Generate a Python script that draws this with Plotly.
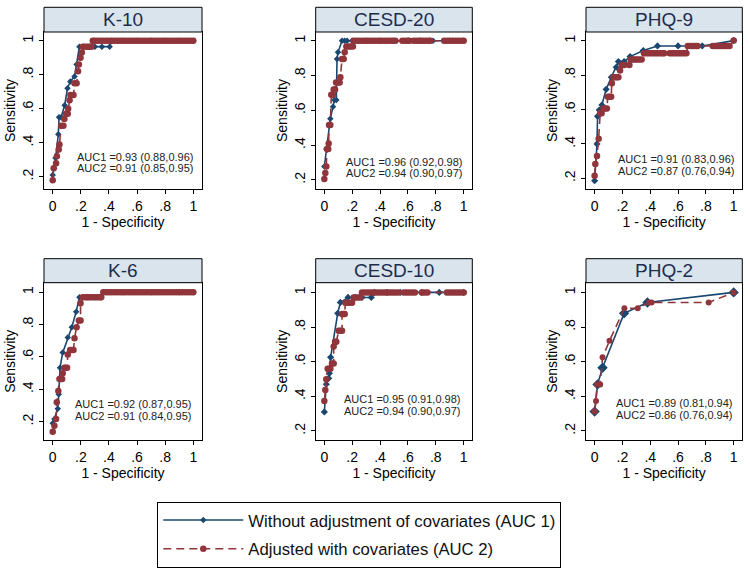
import plotly.graph_objects as go

# ---------------- data ----------------
panel_titles = ["K-10", "CESD-20", "PHQ-9", "K-6", "CESD-10", "PHQ-2"]
auc1_text = ["AUC1 =0.93 (0.88,0.96)", "AUC1 =0.96 (0.92,0.98)", "AUC1 =0.91 (0.83,0.96)",
             "AUC1 =0.92 (0.87,0.95)", "AUC1 =0.95 (0.91,0.98)", "AUC1 =0.89 (0.81,0.94)"]
auc2_text = ["AUC2 =0.91 (0.85,0.95)", "AUC2 =0.94 (0.90,0.97)", "AUC2 =0.87 (0.76,0.94)",
             "AUC2 =0.91 (0.84,0.95)", "AUC2 =0.94 (0.90,0.97)", "AUC2 =0.86 (0.76,0.94)"]
series_names = ["Without adjustment of covariates (AUC 1)", "Adjusted with covariates (AUC 2)"]

# K-10
k10_x1 = [0, 0.01, 0.02, 0.04, 0.045, 0.06, 0.085, 0.105, 0.125, 0.155, 0.17, 0.19, 0.22, 0.26,
          0.30, 0.35, 0.405, 0.42, 0.5, 0.6, 0.7, 0.8, 0.9, 1.0]
k10_y1 = [0.21, 0.25, 0.31, 0.45, 0.55, 0.55, 0.62, 0.72, 0.76, 0.79, 0.86, 0.965, 0.965, 0.965,
          0.965, 0.965, 0.965, 1, 1, 1, 1, 1, 1, 1]
k10_x2 = [0, 0.007, 0.024, 0.03, 0.043, 0.048, 0.06, 0.076, 0.083, 0.095,
          0.107, 0.11, 0.12, 0.126, 0.148, 0.155, 0.17, 0.18, 0.186, 0.198,
          0.207, 0.214, 0.23, 0.245, 0.26, 0.275,
          0.285, 0.30, 0.32, 0.34, 0.36, 0.38, 0.40, 0.42, 0.44, 0.46, 0.48, 0.50, 0.52,
          0.54, 0.56, 0.58, 0.60, 0.62, 0.64, 0.66, 0.68, 0.70, 0.72, 0.74, 0.76, 0.78,
          0.80, 0.82, 0.84, 0.86, 0.88, 0.90, 0.92, 0.94, 0.96, 0.98, 1.0]
k10_y2 = [0.18, 0.25, 0.28, 0.32, 0.36, 0.39, 0.50, 0.50, 0.54, 0.57,
          0.57, 0.60, 0.65, 0.68, 0.68, 0.75, 0.75, 0.82, 0.86, 0.90,
          0.93, 0.965, 0.965, 0.965, 0.965, 0.965,
          1, 1, 1, 1, 1, 1, 1, 1, 1, 1, 1, 1, 1,
          1, 1, 1, 1, 1, 1, 1, 1, 1, 1, 1, 1, 1,
          1, 1, 1, 1, 1, 1, 1, 1, 1, 1, 1]

# CESD-20
c20_x1 = [0, 0.014, 0.043, 0.062, 0.072, 0.086, 0.091, 0.098, 0.127, 0.145, 0.163, 0.2, 0.3,
          0.4, 0.5, 0.6, 0.7, 0.78, 0.9, 1.0]
c20_y1 = [0.277, 0.378, 0.552, 0.62, 0.66, 0.66, 0.895, 0.933, 1, 1, 1, 1, 1,
          1, 1, 1, 1, 1, 1, 1]
c20_x2 = [0, 0.007, 0.014, 0.019, 0.028, 0.031, 0.034, 0.043, 0.05, 0.062,
          0.067, 0.077, 0.084, 0.1, 0.11, 0.115, 0.127, 0.139, 0.146, 0.158,
          0.175, 0.19, 0.205,
          0.21, 0.23, 0.25, 0.27, 0.29, 0.31, 0.33, 0.35, 0.37, 0.39, 0.41, 0.43, 0.45, 0.47,
          0.49, 0.51, 0.56, 0.58, 0.60, 0.61, 0.64, 0.66, 0.68, 0.69, 0.71, 0.73, 0.75, 0.76,
          0.86, 0.88, 0.90, 0.92, 0.94, 0.96, 0.98, 1.0]
c20_y2 = [0.206, 0.24, 0.277, 0.378, 0.378, 0.41, 0.516, 0.516, 0.69, 0.69,
          0.72, 0.72, 0.76, 0.76, 0.76, 0.79, 0.895, 0.895, 0.933, 0.966,
          0.966, 0.966, 0.966,
          1, 1, 1, 1, 1, 1, 1, 1, 1, 1, 1, 1, 1, 1,
          1, 1, 1, 1, 1, 1, 1, 1, 1, 1, 1, 1, 1, 1,
          1, 1, 1, 1, 1, 1, 1, 1]

# PHQ-9
p9_x1 = [0, 0.017, 0.021, 0.033, 0.052, 0.083, 0.12, 0.155, 0.171, 0.212, 0.255, 0.35, 0.452,
         0.6, 0.774, 1.0]
p9_y1 = [0.186, 0.40, 0.56, 0.597, 0.626, 0.717, 0.787, 0.845, 0.878, 0.878, 0.907, 0.942, 0.969,
         0.969, 0.969, 1.0]
p9_x2 = [0, 0.005, 0.017, 0.029, 0.04, 0.05, 0.064, 0.076, 0.088, 0.095,
         0.107, 0.119, 0.124, 0.136, 0.148, 0.16, 0.171, 0.183, 0.195, 0.205,
         0.214, 0.25, 0.26, 0.275, 0.29, 0.305, 0.32, 0.338, 0.355, 0.37,
         0.385, 0.40, 0.415, 0.43, 0.445, 0.46, 0.475, 0.49, 0.50, 0.54,
         0.555, 0.57, 0.585, 0.60, 0.615, 0.63, 0.645, 0.66, 0.67, 0.685,
         0.70, 0.715, 0.73, 0.74, 0.85, 0.865, 0.88, 0.895, 0.91, 0.925,
         0.94, 0.955, 0.97, 1.0]
p9_y2 = [0.215, 0.283, 0.33, 0.43, 0.578, 0.578, 0.606, 0.606, 0.606, 0.674,
         0.674, 0.674, 0.752, 0.787, 0.787, 0.787, 0.787, 0.826, 0.859, 0.859,
         0.859, 0.859, 0.89, 0.89, 0.89, 0.89, 0.89, 0.89, 0.926, 0.926,
         0.926, 0.926, 0.926, 0.926, 0.926, 0.926, 0.926, 0.926, 0.926, 0.926,
         0.926, 0.926, 0.926, 0.926, 0.926, 0.926, 0.926, 0.926, 0.969, 0.969,
         0.969, 0.969, 0.969, 0.969, 0.969, 0.969, 0.969, 0.969, 0.969, 0.969,
         0.969, 0.969, 0.969, 1.0]

# K-6
k6_x1 = [0, 0.012, 0.036, 0.043, 0.052, 0.071, 0.107, 0.136, 0.167, 0.19, 0.25, 0.3, 0.345,
         0.36, 0.5, 0.7, 0.9, 1.0]
k6_y1 = [0.19, 0.216, 0.28, 0.37, 0.534, 0.627, 0.72, 0.784, 0.88, 0.969, 0.969, 0.969, 0.969,
         1, 1, 1, 1, 1]
k6_x2 = [0, 0.012, 0.024, 0.029, 0.04, 0.048, 0.057, 0.067, 0.071, 0.083,
         0.093, 0.102, 0.107, 0.124, 0.136, 0.148, 0.155, 0.17, 0.186, 0.198,
         0.198, 0.214, 0.23, 0.245, 0.26, 0.275, 0.29, 0.305, 0.32, 0.335,
         0.345, 0.36, 0.38, 0.40, 0.42, 0.44, 0.46, 0.48, 0.50, 0.52,
         0.54, 0.56, 0.58, 0.60, 0.62, 0.64, 0.66, 0.68, 0.70, 0.72,
         0.74, 0.76, 0.78, 0.80, 0.82, 0.84, 0.86, 0.88, 0.90, 0.92,
         0.94, 0.96, 0.98, 1.0]
k6_y2 = [0.138, 0.175, 0.216, 0.32, 0.39, 0.464, 0.464, 0.464, 0.5, 0.534,
         0.534, 0.534, 0.616, 0.643, 0.643, 0.643, 0.715, 0.784, 0.825, 0.825,
         0.932, 0.969, 0.969, 0.969, 0.969, 0.969, 0.969, 0.969, 0.969, 0.969,
         0.969, 1, 1, 1, 1, 1, 1, 1, 1, 1,
         1, 1, 1, 1, 1, 1, 1, 1, 1, 1,
         1, 1, 1, 1, 1, 1, 1, 1, 1, 1,
         1, 1, 1, 1]

# CESD-10
c10_x1 = [0, 0.014, 0.031, 0.036, 0.045, 0.096, 0.115, 0.17, 0.22, 0.27, 0.337, 0.36, 0.45,
          0.545, 0.7, 0.825, 1.0]
c10_y1 = [0.31, 0.47, 0.504, 0.533, 0.625, 0.879, 0.942, 0.971, 0.971, 0.971, 0.971, 1, 1,
          1, 1, 1, 1]
c10_x2 = [0, 0.007, 0.014, 0.024, 0.034, 0.043, 0.055, 0.067, 0.067, 0.077,
          0.086, 0.103, 0.115, 0.127, 0.127, 0.139, 0.146, 0.151, 0.165, 0.18,
          0.199, 0.21, 0.225, 0.24, 0.258, 0.27, 0.29, 0.31, 0.33, 0.35,
          0.37, 0.39, 0.41, 0.43, 0.45, 0.47, 0.49, 0.51, 0.53, 0.57,
          0.59, 0.61, 0.63, 0.65, 0.70, 0.72, 0.74, 0.88, 0.90, 0.92,
          0.94, 0.96, 0.98, 1.0]
c10_y2 = [0.373, 0.436, 0.498, 0.56, 0.56, 0.56, 0.59, 0.59, 0.687, 0.715,
          0.715, 0.779, 0.779, 0.779, 0.875, 0.875, 0.875, 0.94, 0.94, 0.94,
          0.94, 0.971, 0.971, 0.971, 0.971, 1, 1, 1, 1, 1,
          1, 1, 1, 1, 1, 1, 1, 1, 1, 1,
          1, 1, 1, 1, 1, 1, 1, 1, 1, 1,
          1, 1, 1, 1]

# PHQ-2
p2_x1 = [0, 0.021, 0.057, 0.212, 0.38, 1.0]
p2_y1 = [0.312, 0.469, 0.565, 0.879, 0.942, 1.0]
p2_x2 = [0, 0.01, 0.017, 0.04, 0.057, 0.107, 0.214, 0.31, 0.39, 0.41, 0.82, 1.0]
p2_y2 = [0.312, 0.373, 0.469, 0.469, 0.625, 0.721, 0.908, 0.908, 0.942, 0.942, 0.942, 1.0]

x_tick_vals = [0, 0.2, 0.4, 0.6, 0.8, 1]
x_tick_text = ["0", ".2", ".4", ".6", ".8", "1"]
y_tick_vals = [0.2, 0.4, 0.6, 0.8, 1]
y_tick_text = [".2", ".4", ".6", ".8", "1"]

panels = [
    (k10_x1, k10_y1, k10_x2, k10_y2),
    (c20_x1, c20_y1, c20_x2, c20_y2),
    (p9_x1, p9_y1, p9_x2, p9_y2),
    (k6_x1, k6_y1, k6_x2, k6_y2),
    (c10_x1, c10_y1, c10_x2, c10_y2),
    (p2_x1, p2_y1, p2_x2, p2_y2),
]

# ---------------- layout / style ----------------
W, H = 750, 574
FONT = "Liberation Sans, Arial, sans-serif"
BLUE = "#1a476f"
RED = "#90353b"
STRIP = "#d9e4ec"
col_px = [(44, 202), (315.7, 472.3), (586, 742.3)]
row_px = [(32, 189), (282.7, 440)]
strip_px = [(7.3, 32), (258.7, 282.7)]
y_ranges = [[0.128, 1.051], [0.148, 1.05], [0.138, 1.05],
            [0.087, 1.059], [0.148, 1.056], [0.148, 1.056]]
x_range = [-0.062, 1.062]
auc_px = [(75, 156.7, 167.7), (344, 162.3, 173.3), (616, 159, 170.7),
          (73.3, 404, 415.7), (342.3, 399, 410.7), (614, 403.3, 415)]
blue_size = [5, 5, 5.5, 5, 5.5, 8]
red_size = [6.5, 6.5, 6.5, 6.5, 6.5, 6]


def px_x(v):
    return v / W


def px_y(v):
    return 1 - v / H


fig = go.Figure()
shapes = []
annotations = []

for i, (x1, y1, x2, y2) in enumerate(panels):
    r, c = divmod(i, 3)
    sfx = "" if i == 0 else str(i + 1)
    xa, ya = "x" + sfx, "y" + sfx
    fig.add_trace(go.Scatter(
        x=x1, y=y1, mode="lines+markers", xaxis=xa, yaxis=ya,
        name=series_names[0], legendgroup="a", showlegend=(i == 0),
        line=dict(color=BLUE, width=1.6),
        marker=dict(symbol="diamond", size=blue_size[i], color=BLUE)))
    fig.add_trace(go.Scatter(
        x=x2, y=y2, mode="lines+markers", xaxis=xa, yaxis=ya,
        name=series_names[1], legendgroup="b", showlegend=(i == 0),
        line=dict(color=RED, width=1.6, dash="8px,5px"),
        marker=dict(symbol="circle", size=red_size[i], color=RED)))

    x0p, x1p = col_px[c]
    y0p, y1p = row_px[r]
    axis_common = dict(showline=True, linecolor="black", linewidth=1, mirror=True,
                       showgrid=False, zeroline=False, ticks="outside", ticklen=4,
                       tickcolor="black", tickfont=dict(family=FONT, size=14, color="black"))
    fig.layout["xaxis" + sfx] = dict(
        domain=[px_x(x0p), px_x(x1p)], range=x_range, anchor=ya,
        tickvals=x_tick_vals, ticktext=x_tick_text,
        title=dict(text="1 - Specificity", font=dict(family=FONT, size=14, color="black"), standoff=1),
        **axis_common)
    fig.layout["yaxis" + sfx] = dict(
        domain=[px_y(y1p), px_y(y0p)], range=y_ranges[i], anchor=xa,
        tickvals=y_tick_vals, ticktext=y_tick_text, tickangle=-90,
        title=dict(text="Sensitivity", font=dict(family=FONT, size=14, color="black"), standoff=1),
        **axis_common)

    s0, s1 = strip_px[r]
    shapes.append(dict(type="rect", xref="paper", yref="paper",
                       x0=px_x(x0p), x1=px_x(x1p), y0=px_y(s1), y1=px_y(s0),
                       fillcolor=STRIP, line=dict(color="black", width=1), layer="above"))
    annotations.append(dict(text=panel_titles[i], xref="paper", yref="paper",
                            x=px_x((x0p + x1p) / 2), y=px_y((s0 + s1) / 2),
                            xanchor="center", yanchor="middle", showarrow=False,
                            font=dict(family=FONT, size=19, color="#1c2d4f")))
    ax, ay1, ay2 = auc_px[i]
    for txt, yy in ((auc1_text[i], ay1), (auc2_text[i], ay2)):
        annotations.append(dict(text=txt, xref="paper", yref="paper",
                                x=px_x(ax), y=px_y(yy), xanchor="left", yanchor="middle",
                                showarrow=False,
                                font=dict(family=FONT, size=11, color="#222222")))

fig.update_layout(
    width=W, height=H, autosize=False,
    margin=dict(l=0, r=0, t=0, b=0),
    paper_bgcolor="white", plot_bgcolor="white",
    shapes=shapes, annotations=annotations,
    showlegend=True,
    legend=dict(x=px_x(157.3), y=px_y(501.7), xanchor="left", yanchor="top",
                bordercolor="black", borderwidth=1, bgcolor="white",
                font=dict(family=FONT, size=16.7, color="#111111"),
                itemwidth=80, tracegroupgap=4),
)

fig.write_html("out.html", config={"displayModeBar": False},
               post_script="document.body.style.margin='0';document.body.style.overflow='hidden';")
